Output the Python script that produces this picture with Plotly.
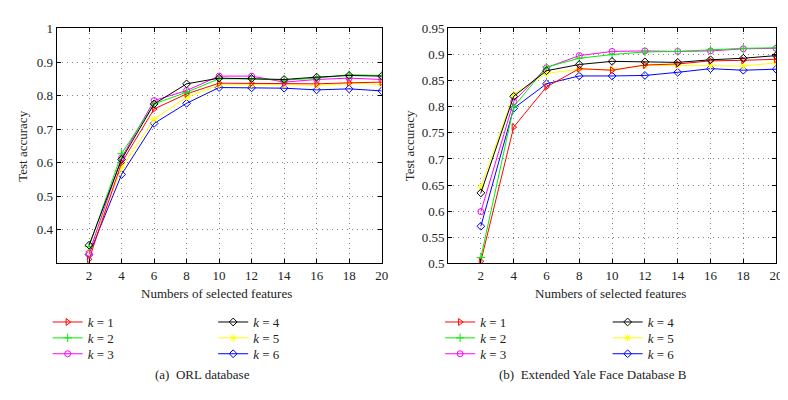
import plotly.graph_objects as go

x_feat = [2, 4, 6, 8, 10, 12, 14, 16, 18, 20]

orl_k1 = [0.312, 0.600, 0.760, 0.805, 0.837, 0.837, 0.837, 0.835, 0.838, 0.840]
orl_k2 = [0.350, 0.627, 0.775, 0.810, 0.850, 0.850, 0.846, 0.852, 0.862, 0.860]
orl_k3 = [0.330, 0.615, 0.785, 0.815, 0.858, 0.858, 0.840, 0.848, 0.852, 0.848]
orl_k4 = [0.354, 0.610, 0.775, 0.835, 0.852, 0.851, 0.848, 0.855, 0.860, 0.858]
orl_k5 = [0.335, 0.585, 0.730, 0.795, 0.832, 0.833, 0.833, 0.830, 0.836, 0.834]
orl_k6 = [0.326, 0.565, 0.717, 0.777, 0.824, 0.823, 0.822, 0.817, 0.820, 0.814]

yale_k1 = [0.504, 0.761, 0.838, 0.873, 0.870, 0.880, 0.882, 0.888, 0.889, 0.891]
yale_k2 = [0.511, 0.800, 0.876, 0.893, 0.900, 0.905, 0.906, 0.909, 0.912, 0.913]
yale_k3 = [0.599, 0.810, 0.875, 0.898, 0.906, 0.907, 0.906, 0.907, 0.911, 0.912]
yale_k4 = [0.635, 0.820, 0.869, 0.881, 0.887, 0.886, 0.885, 0.890, 0.893, 0.898]
yale_k5 = [0.646, 0.824, 0.864, 0.872, 0.871, 0.879, 0.879, 0.879, 0.878, 0.884]
yale_k6 = [0.571, 0.797, 0.844, 0.859, 0.859, 0.860, 0.866, 0.873, 0.870, 0.872]

orl_ticks = [0.4, 0.5, 0.6, 0.7, 0.8, 0.9, 1.0]
orl_ticktext = ["0.4", "0.5", "0.6", "0.7", "0.8", "0.9", "1"]
yale_ticks = [0.5, 0.55, 0.6, 0.65, 0.7, 0.75, 0.8, 0.85, 0.9, 0.95]
yale_ticktext = ["0.5", "0.55", "0.6", "0.65", "0.7", "0.75", "0.8", "0.85", "0.9", "0.95"]

colors = ["#ff0000", "#00ee00", "#ff00ff", "#000000", "#ffff00", "#0000ff"]
symbols = ["triangle-right-open", "cross-thin-open", "circle-open", "diamond-open", "asterisk-open", "diamond-open"]

FONT = "'Liberation Serif', 'DejaVu Serif', serif"
W, H = 788, 400


def px(xp):
    return xp / W


def py(yp):
    return 1 - yp / H


fig = go.Figure()
orl = [orl_k1, orl_k2, orl_k3, orl_k4, orl_k5, orl_k6]
yale = [yale_k1, yale_k2, yale_k3, yale_k4, yale_k5, yale_k6]

# legend slot positions (pixel): per panel, col x and row y
panel_leg_x = [(40, 207), (436, 605)]
row_y = [319, 335.5, 352]

draw_order = [5, 4, 0, 2, 1, 3]
legend_layout = {}
for p, (data, xa, ya) in enumerate([(orl, "x", "y"), (yale, "x2", "y2")]):
    for i in draw_order:
        idx = p * 6 + i + 1
        lname = "legend" if idx == 1 else "legend%d" % idx
        col = 0 if i < 3 else 1
        row = i % 3
        legend_layout[lname] = dict(
            x=px(panel_leg_x[p][col]), y=py(row_y[row]),
            xanchor="left", yanchor="middle",
            bgcolor="rgba(0,0,0,0)", borderwidth=0,
            font=dict(family=FONT, size=13, color="#222"),
            itemwidth=30,
        )
        fig.add_trace(go.Scatter(
            x=x_feat, y=data[i], mode="lines+markers", name="<i>k</i> = %d" % (i + 1),
            line=dict(color=colors[i], width=1),
            marker=dict(symbol=symbols[i], size=6, color=colors[i],
                        line=dict(width=1, color=colors[i])),
            xaxis=xa, yaxis=ya, legend=lname, showlegend=True,
        ))

axis_common = dict(
    showline=True, linecolor="black", linewidth=1, mirror="ticks",
    ticks="inside", ticklen=4, tickcolor="black",
    showgrid=True, gridcolor="#808080", griddash="1px,4px", gridwidth=1,
    zeroline=False, tickfont=dict(family=FONT, size=13, color="#222"),
)

fig.update_layout(
    width=W, height=H,
    margin=dict(l=0, r=0, t=0, b=0),
    paper_bgcolor="white", plot_bgcolor="white",
    font=dict(family=FONT, size=13, color="#222"),
    xaxis=dict(domain=[px(49), px(377)], range=[0, 20], tickvals=x_feat, anchor="y", **axis_common),
    yaxis=dict(domain=[py(258), py(14)], range=[0.3, 1.0], tickvals=orl_ticks,
               ticktext=orl_ticktext, anchor="x", **axis_common),
    xaxis2=dict(domain=[px(444), px(775)], range=[0, 20], tickvals=x_feat, anchor="y2", **axis_common),
    yaxis2=dict(domain=[py(258), py(14)], range=[0.5, 0.95], tickvals=yale_ticks,
                ticktext=yale_ticktext, anchor="x2", **axis_common),
    **legend_layout,
)

annots = [
    dict(text="Test accuracy", x=px(15), y=py(136), textangle=-90),
    dict(text="Test accuracy", x=px(406), y=py(136), textangle=-90),
    dict(text="Numbers of selected features", x=px(210), y=py(289)),
    dict(text="Numbers of selected features", x=px(608), y=py(289)),
    dict(text="(a)  ORL database", x=px(196), y=py(373)),
    dict(text="(b)  Extended Yale Face Database B", x=px(590), y=py(373)),
]
for a in annots:
    fig.add_annotation(xref="paper", yref="paper", showarrow=False,
                       xanchor="center", yanchor="middle",
                       font=dict(family=FONT, size=13, color="#222"), **a)

fig.write_html("out.html")
